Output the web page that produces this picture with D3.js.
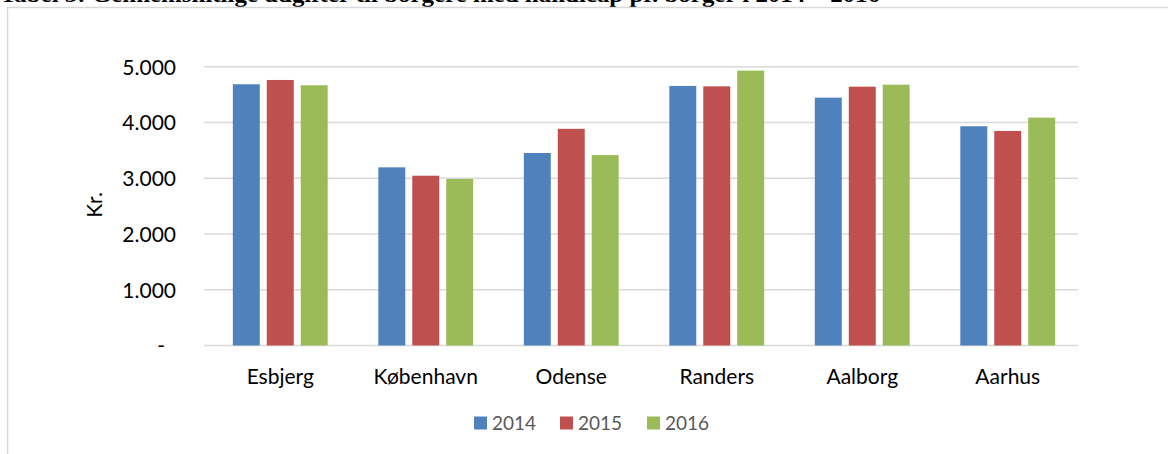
<!DOCTYPE html>
<html>
<head>
<meta charset="utf-8">
<script src="https://cdn.jsdelivr.net/npm/d3@7"></script>
<style>
  html, body { margin: 0; padding: 0; background: #fff; }
  svg { display: block; }
</style>
</head>
<body>
<svg id="chart"></svg>
<script>
// data
const cities = ['Esbjerg', 'København', 'Odense', 'Randers', 'Aalborg', 'Aarhus'];
const years = ['2014', '2015', '2016'];
const values2014 = [4685, 3195, 3452, 4655, 4445, 3932];
const values2015 = [4762, 3045, 3886, 4648, 4642, 3848];
const values2016 = [4667, 2987, 3415, 4930, 4678, 4087];
const yticks = [0, 1000, 2000, 3000, 4000, 5000];
const colors = ['#4f81bd', '#c0504d', '#9bbb59'];

const width = 1168, height = 454;
const font = 'Lato, sans-serif';
const svg = d3.select('#chart').attr('width', width).attr('height', height);

const series = [values2014, values2015, values2016];
const rows = cities.map((c, i) => ({city: c, vals: years.map((y, j) => ({year: y, value: series[j][i], k: j}))}));

// title, cut off at the top of the image like in the original
svg.append('text')
    .attr('x', 0)
    .attr('y', 2)
    .attr('font-family', 'Liberation Serif, serif')
    .attr('font-weight', 'bold')
    .attr('font-size', '24px')
    .attr('fill', '#000')
    .attr('textLength', 880)
    .attr('lengthAdjust', 'spacingAndGlyphs')
    .text('Tabel 3: Gennemsnitlige udgifter til borgere med handicap pr. borger i 2014 – 2016');

// outer frame
svg.append('path')
    .attr('d', `M7.5,${height} L7.5,7.5 L${width},7.5`)
    .attr('fill', 'none')
    .attr('stroke', '#d9d9d9')
    .attr('stroke-width', 1.5);

const x0 = d3.scaleBand()
    .domain(cities)
    .range([207.5, 1080.5])
    .paddingInner(0.3)
    .paddingOuter(0.15);

const x1 = d3.scaleBand()
    .domain(years)
    .range([0, x0.bandwidth()])
    .paddingInner(0.206)
    .paddingOuter(0.103);

const y = d3.scaleLinear()
    .domain([0, 5000])
    .range([345.5, 66.7]);

// gridlines
svg.append('g')
    .selectAll('line')
    .data(yticks)
    .join('line')
    .attr('x1', 204)
    .attr('x2', 1078)
    .attr('y1', d => y(d))
    .attr('y2', d => y(d))
    .attr('stroke', '#d9d9d9')
    .attr('stroke-width', 1.5);

// y axis labels
const yaxis = d3.axisLeft(y)
    .tickValues(yticks)
    .tickSize(0)
    .tickPadding(0)
    .tickFormat(d => d === 0 ? '-' : d3.format(',')(d).replace(',', '.'));

const yg = svg.append('g')
    .attr('transform', 'translate(176,0)')
    .call(yaxis);
yg.select('.domain').remove();
yg.selectAll('text')
    .attr('font-family', font)
    .attr('font-size', '21px')
    .attr('fill', '#000')
    .attr('dy', '0.35em');
yg.selectAll('.tick')
    .filter(d => d === 0)
    .select('text')
    .attr('x', -11);

svg.append('text')
    .attr('transform', 'rotate(-90)')
    .attr('x', -205)
    .attr('y', 102)
    .attr('text-anchor', 'middle')
    .attr('font-family', font)
    .attr('font-size', '21px')
    .attr('fill', '#000')
    .text('Kr.');

// bars
const groups = svg.append('g')
    .selectAll('g')
    .data(rows)
    .join('g')
    .attr('transform', d => `translate(${x0(d.city)},0)`);

groups.selectAll('rect')
    .data(d => d.vals)
    .join('rect')
    .attr('x', d => x1(d.year))
    .attr('y', d => y(d.value))
    .attr('width', x1.bandwidth())
    .attr('height', d => y(0) - y(d.value))
    .attr('fill', d => colors[d.k]);

// x axis labels
const xaxis = d3.axisBottom(x0)
    .tickSize(0)
    .tickPadding(0);
const xg = svg.append('g')
    .attr('transform', 'translate(0,384)')
    .call(xaxis);
xg.select('.domain').remove();
xg.selectAll('text')
    .attr('font-family', font)
    .attr('font-size', '21px')
    .attr('fill', '#000')
    .attr('y', 0)
    .attr('dy', 0);

// legend
const legendX = [474, 560, 647];
const legend = svg.append('g')
    .selectAll('g')
    .data(years)
    .join('g')
    .attr('transform', (d, i) => `translate(${legendX[i]},416.5)`);
legend.append('rect')
    .attr('width', 13)
    .attr('height', 13)
    .attr('fill', (d, i) => colors[i]);
legend.append('text')
    .attr('x', 18)
    .attr('y', 13)
    .attr('font-family', font)
    .attr('font-size', '19px')
    .attr('fill', '#595959')
    .text(d => d);
</script>
</body>
</html>
